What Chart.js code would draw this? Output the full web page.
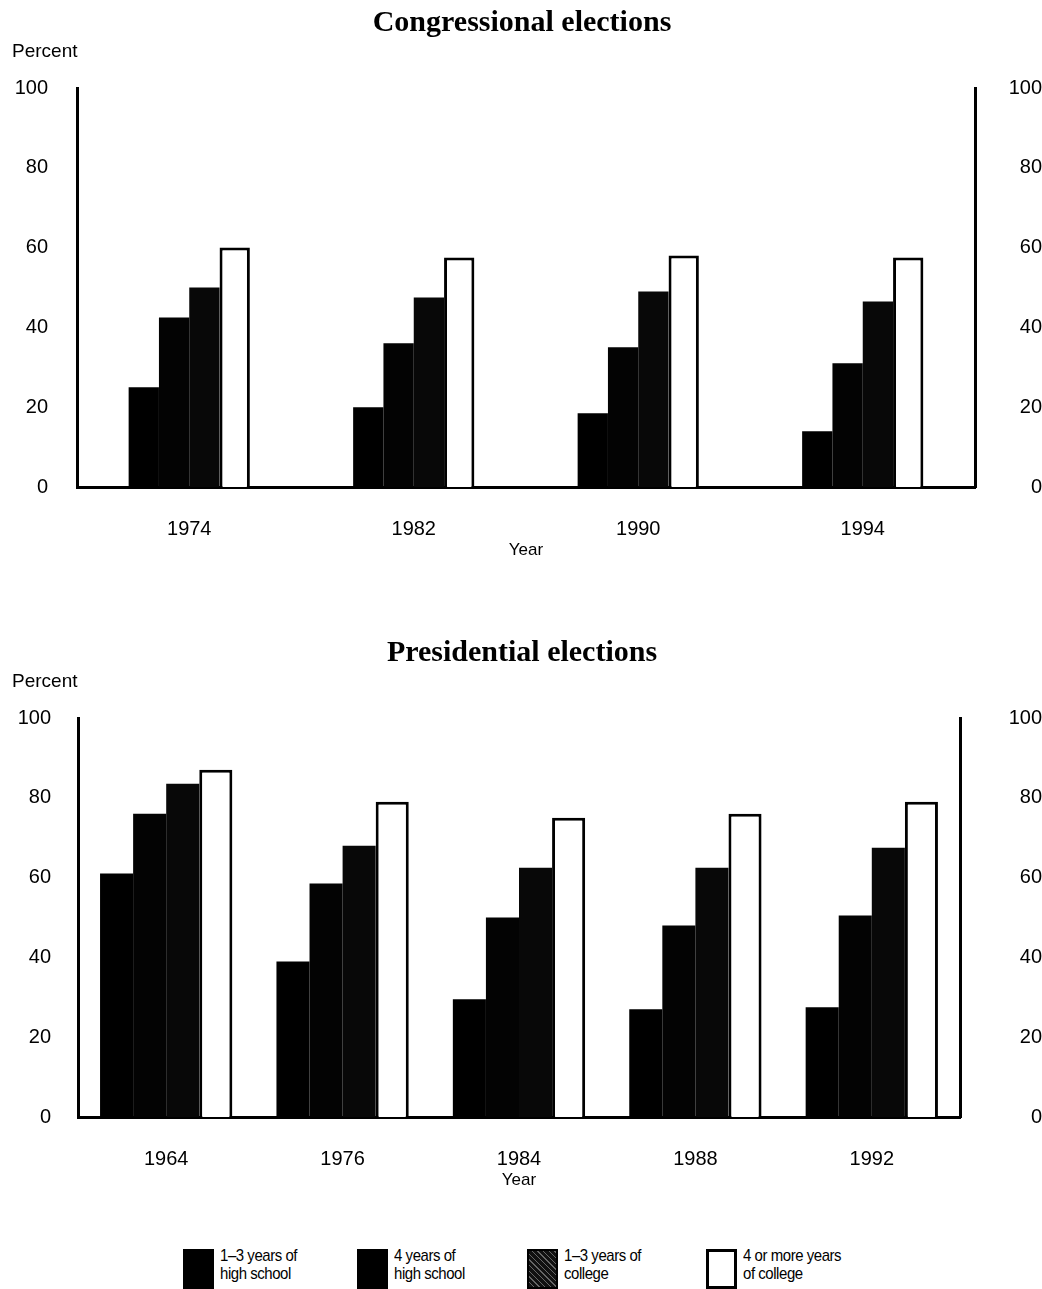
<!DOCTYPE html>
<html>
<head>
<meta charset="utf-8">
<script src="https://cdn.jsdelivr.net/npm/chart.js@4.4.1/dist/chart.umd.min.js"></script>
<style>
  body { margin: 0; background: #fff; width: 1042px; height: 1289px; position: relative; overflow: hidden;
         font-family: "Liberation Sans", Arial, sans-serif; }
  .box { position: absolute; left: 0; width: 1042px; height: 570px; }
  #legend { position: absolute; top: 1247px; left: 0; width: 1042px; height: 42px; }
  .item { position: absolute; top: 0; height: 42px; }
  .sw { position: absolute; left: 0; top: 2px; width: 31px; height: 40px; box-sizing: border-box; }
  .txt { position: absolute; left: 37px; top: 0; font-size: 17px; line-height: 18px; letter-spacing: -0.5px;
         white-space: nowrap; color: #000; transform: scaleX(0.88); transform-origin: left top; }
</style>
</head>
<body>
<div class="box" style="top:0"><canvas id="congChart"></canvas></div>
<div class="box" style="top:630px"><canvas id="presChart"></canvas></div>
<div id="legend"></div>
<script>
// series order: 1-3 yrs HS, 4 yrs HS, 1-3 yrs college, 4+ yrs college
const seriesNames = [["1\u20133 years of", "high school"], ["4 years of", "high school"],
                     ["1\u20133 years of", "college"], ["4 or more years", "of college"]];

const congYears = ["1974", "1982", "1990", "1994"];
const congHighSchool13 = [25, 20, 18.5, 14];
const congHighSchool4 = [42.5, 36, 35, 31];
const congCollege13 = [50, 47.5, 49, 46.5];
const congCollege4 = [60, 57.5, 58, 57.5];

const presYears = ["1964", "1976", "1984", "1988", "1992"];
const presHighSchool13 = [61, 39, 29.5, 27, 27.5];
const presHighSchool4 = [76, 58.5, 50, 48, 50.5];
const presCollege13 = [83.5, 68, 62.5, 62.5, 67.5];
const presCollege4 = [87, 79, 75, 76, 79];

Chart.defaults.font.family = "'Liberation Sans', Arial, sans-serif";
Chart.defaults.color = "#000";

const fills = ["#000", "#030303", "#080808", "#fff"];

function headerPlugin(title) {
  return {
    id: "header",
    afterDraw(chart) {
      const { ctx, chartArea } = chart;
      ctx.save();
      ctx.fillStyle = "#000";
      ctx.textBaseline = "middle";
      ctx.textAlign = "center";
      ctx.font = "bold 30px 'Liberation Serif', 'Times New Roman', serif";
      ctx.fillText(title, 522, chartArea.top - 65);
      ctx.textAlign = "left";
      ctx.font = "19px 'Liberation Sans', Arial, sans-serif";
      ctx.fillText("Percent", 12, chartArea.top - 36);
      ctx.restore();
    }
  };
}

function makeChart(el, title, labels, series, groupWidth, leftW, leftPad, rightW, rightPad) {
  new Chart(el, {
    type: "bar",
    data: {
      labels: labels,
      datasets: series.map((d, i) => ({
        label: seriesNames[i].join(" "),
        data: d,
        backgroundColor: fills[i],
        borderColor: "#000",
        borderWidth: i === 3 ? 3 : 0,
        borderSkipped: "bottom",
        barPercentage: 1,
        categoryPercentage: groupWidth,
        yAxisID: "y"
      }))
    },
    options: {
      responsive: true,
      maintainAspectRatio: false,
      animation: false,
      layout: { autoPadding: false, padding: { top: 88, bottom: 0, left: 0, right: 0 } },
      plugins: { legend: { display: false }, tooltip: { enabled: false } },
      scales: {
        x: {
          grid: { display: false },
          border: { display: true, color: "#000", width: 3 },
          ticks: { font: { size: 20 }, padding: 22 },
          title: { display: true, text: "Year", font: { size: 17 }, padding: { top: 0, bottom: 9 } },
          afterFit(s) { s.height = 83; }
        },
        y: {
          position: "left", min: 0, max: 100,
          grid: { display: false, drawTicks: false },
          border: { display: true, color: "#000", width: 3 },
          ticks: { font: { size: 20 }, padding: leftPad, stepSize: 20 },
          afterFit(s) { s.width = leftW; }
        },
        y2: {
          position: "right", min: 0, max: 100,
          grid: { display: false, drawTicks: false },
          border: { display: true, color: "#000", width: 3 },
          ticks: { font: { size: 20 }, padding: rightPad, crossAlign: "far", stepSize: 20 },
          afterFit(s) { s.width = rightW; }
        }
      }
    },
    plugins: [headerPlugin(title)]
  });
}

makeChart(document.getElementById("congChart"), "Congressional elections", congYears,
  [congHighSchool13, congHighSchool4, congCollege13, congCollege4], 0.54, 77, 29, 67, 29);

makeChart(document.getElementById("presChart"), "Presidential elections", presYears,
  [presHighSchool13, presHighSchool4, presCollege13, presCollege4], 0.75, 78, 27, 82, 45);

// legend
const legendX = [183, 357, 527, 706];
const swatchCss = [
  "background:#000;",
  "background:#000;",
  "background:#111 repeating-linear-gradient(45deg,#111 0 3px,#666 3px 4px);border:2px solid #000;",
  "background:#fff;border:3px solid #000;"
];
const legend = document.getElementById("legend");
seriesNames.forEach((lines, i) => {
  const item = document.createElement("div");
  item.className = "item";
  item.style.left = legendX[i] + "px";
  item.innerHTML = '<div class="sw" style="' + swatchCss[i] + '"></div><div class="txt">' +
    lines.join("<br>") + "</div>";
  legend.appendChild(item);
});
</script>
</body>
</html>
